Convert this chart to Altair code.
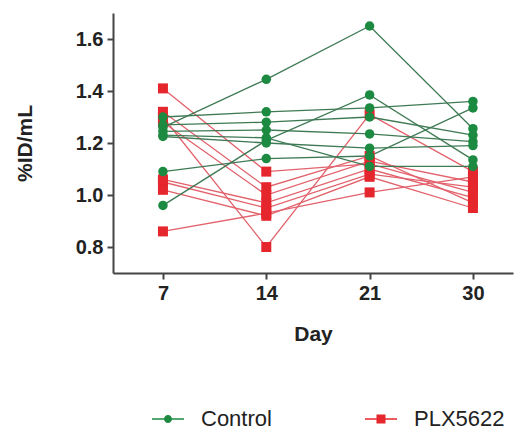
import altair as alt
import pandas as pd

days = ["7", "14", "21", "30"]
groups = ["Control", "PLX5622"]

control = [
    [1.26, 1.445, 1.65, 1.255],
    [0.96, 1.21, 1.385, 1.135],
    [1.30, 1.32, 1.335, 1.36],
    [1.27, 1.28, 1.30, 1.23],
    [1.245, 1.25, 1.235, 1.205],
    [1.225, 1.20, 1.18, 1.19],
    [1.09, 1.14, 1.15, 1.335],
    [1.23, 1.22, 1.11, 1.11],
]
plx5622 = [
    [1.41, 1.09, 1.12, 1.01],
    [1.30, 0.80, 1.31, 1.09],
    [1.32, 1.03, 1.15, 0.97],
    [1.28, 1.00, 1.13, 1.05],
    [1.06, 0.97, 1.10, 0.99],
    [1.05, 0.95, 1.08, 1.03],
    [1.02, 0.92, 1.07, 0.95],
    [0.86, 0.93, 1.01, 1.07],
]
y_ticks = [0.8, 1.0, 1.2, 1.4, 1.6]

rows = []
for gname, series in [("PLX5622", plx5622), ("Control", control)]:
    for i, vals in enumerate(series):
        for d, v in zip(days, vals):
            rows.append({"subject": f"{gname}-{i}", "idx": i, "group": gname, "day": d, "value": v})
df = pd.DataFrame(rows)

ctrl_line, plx_line = "#3f7a55", "#e2626c"
ctrl_pt, plx_pt = "#1d8a42", "#e5262d"

x_enc = alt.X(
    "day:O",
    sort=days,
    scale=alt.Scale(padding=0.4355, align=0.555),
    axis=alt.Axis(title="Day", labelAngle=0, titlePadding=20, labelPadding=4),
)
y_enc = alt.Y(
    "value:Q",
    scale=alt.Scale(domain=[0.7, 1.7], nice=False, zero=False),
    axis=alt.Axis(title="%ID/mL", values=y_ticks, format=".1f", titlePadding=40, labelPadding=4),
)

base = alt.Chart(df)
plx_data = base.transform_filter(alt.datum.group == "PLX5622")
ctrl_data = base.transform_filter(alt.datum.group == "Control")

plx_lines = plx_data.mark_line(strokeWidth=1.3, color=plx_line).encode(x=x_enc, y=y_enc, detail="subject:N")
ctrl_lines = ctrl_data.mark_line(strokeWidth=1.3, color=ctrl_line).encode(x=x_enc, y=y_enc, detail="subject:N")
plx_pts = plx_data.mark_square(size=100, opacity=1, strokeWidth=0, color=plx_pt).encode(x=x_enc, y=y_enc)
ctrl_pts = ctrl_data.mark_circle(size=90, opacity=1, strokeWidth=0, color=ctrl_pt).encode(x=x_enc, y=y_enc)

ctrl_path = "M-3.2,-0.15H3.2V0.15H-3.2ZM0.8,0A0.8,0.8,0,1,1,-0.8,0A0.8,0.8,0,1,1,0.8,0Z"
plx_path = "M-3.2,-0.15H3.2V0.15H-3.2ZM-0.9,-0.9H0.9V0.9H-0.9Z"

legend_spec = alt.Legend(
    title=None,
    orient="none",
    legendX=44,
    legendY=395,
    direction="horizontal",
    symbolSize=100,
    symbolOpacity=1,
    symbolStrokeWidth=0,
    labelOffset=22,
    columnPadding=93,
    labelFontSize=22,
    labelFont="Liberation Sans",
    labelColor="#222222",
    padding=0,
)

legend_layer = (
    base.transform_filter((alt.datum.idx == 0) & (alt.datum.day == "7"))
    .mark_point(filled=True, opacity=0)
    .encode(
        color=alt.Color("group:N", scale=alt.Scale(domain=groups, range=[ctrl_pt, plx_pt]), legend=legend_spec),
        shape=alt.Shape("group:N", scale=alt.Scale(domain=groups, range=[ctrl_path, plx_path]), legend=legend_spec),
    )
)

chart = (
    alt.layer(plx_lines, ctrl_lines, plx_pts, ctrl_pts, legend_layer)
    .properties(
        width=400,
        height=260,
        autosize=alt.AutoSizeParams(type="none"),
        padding={"left": 105, "top": 5, "right": 1, "bottom": 161},
    )
    .configure_view(stroke=None)
    .configure_axis(
        domainColor="#444444",
        domainWidth=2,
        tickColor="#444444",
        tickWidth=2,
        tickSize=6,
        grid=False,
        labelFont="Liberation Sans",
        labelFontSize=20,
        labelFontWeight="bold",
        labelColor="#222222",
        titleFont="Liberation Sans",
        titleFontSize=21,
        titleFontWeight="bold",
        titleColor="#222222",
    )
)

chart.save("out.html", embed_options={"renderer": "svg", "actions": False})
